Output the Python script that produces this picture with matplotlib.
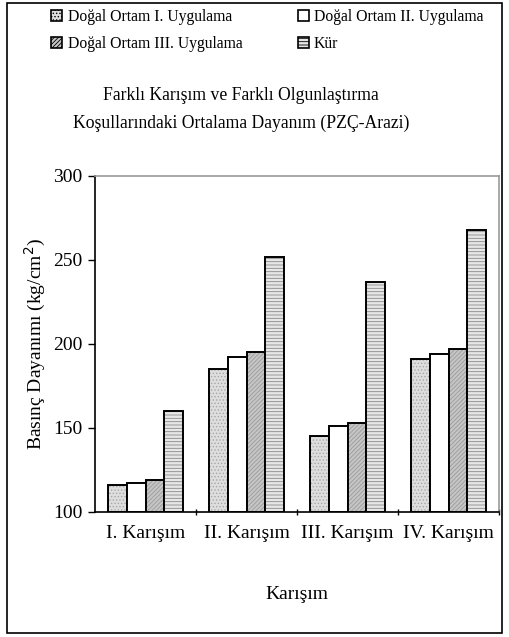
import matplotlib.pyplot as plt
import matplotlib.patches as mpatches
import numpy as np

plt.rcParams['font.family'] = ['Liberation Serif', 'DejaVu Serif']
plt.rcParams['hatch.linewidth'] = 0.6

# dados
karisim = ["I. Karışım", "II. Karışım", "III. Karışım", "IV. Karışım"]
seriler = ["Doğal Ortam I. Uygulama", "Doğal Ortam II. Uygulama",
           "Doğal Ortam III. Uygulama", "Kür"]
uyg1 = [116, 185, 145, 191]
uyg2 = [117, 192, 151, 194]
uyg3 = [119, 195, 153, 197]
kur = [160, 252, 237, 268]

degerler = [uyg1, uyg2, uyg3, kur]
renkler = ['#dedede', 'white', '#c6c6c6', '#e6e6e6']
taramalar = ['.....', None, '////////', '-----']
tarama_renk = ['#a8a8a8', 'white', '#9a9a9a', '#8a8a8a']

fig = plt.figure(figsize=(5.09, 6.37), dpi=100)
ax = fig.add_axes([95/509, 1 - 512/637, 404/509, 336/637])

x = np.arange(len(karisim))
w = 0.185
for i, vals in enumerate(degerler):
    pos = x + (i - 1.5) * w
    ax.bar(pos, np.array(vals) - 100, w, bottom=100, color=renkler[i],
           hatch=taramalar[i], edgecolor=tarama_renk[i], linewidth=0)
    ax.bar(pos, np.array(vals) - 100, w, bottom=100, fill=False,
           edgecolor='black', linewidth=1.4)

ax.set_xlim(-0.5, 3.5)
ax.set_ylim(100, 300)
ax.set_yticks([100, 150, 200, 250, 300])
ax.set_xticks(x)
ax.set_xticklabels(karisim, fontsize=14)
ax.set_xticks([0.5, 1.5, 2.5, 3.5], minor=True)
ax.tick_params(axis='x', which='major', length=0, pad=9)
ax.tick_params(axis='x', which='minor', length=5, direction='inout', width=1)
ax.tick_params(axis='y', length=5, direction='out', width=1, labelsize=14,
               pad=4)

for s in ['top', 'right']:
    ax.spines[s].set_color('#999999')
    ax.spines[s].set_linewidth(1.2)
for s in ['left', 'bottom']:
    ax.spines[s].set_linewidth(1.2)

ax.set_ylabel("Basınç Dayanımı (kg/cm$^2$)", fontsize=14, labelpad=4)
ax.set_xlabel("Karışım", fontsize=14, labelpad=32)

fig.text(241/509, 1 - 95/637, "Farklı Karışım ve Farklı Olgunlaştırma",
         ha='center', va='center', fontsize=12.7)
fig.text(241/509, 1 - 123/637, "Koşullarındaki Ortalama Dayanım (PZÇ-Arazi)",
         ha='center', va='center', fontsize=12.7)

# lejant (ordem por linhas)
handles = []
for i in range(4):
    handles.append(mpatches.Patch(facecolor=renkler[i], hatch=taramalar[i],
                                  edgecolor='black', linewidth=1.2))
ordem = [0, 2, 1, 3]
fig.legend([handles[i] for i in ordem], [seriler[i] for i in ordem], ncol=2,
           loc='upper left', bbox_to_anchor=(42/509, 1 - 0/637),
           frameon=False, fontsize=11.3, handlelength=0.7, handleheight=0.7,
           handletextpad=0.35, columnspacing=3.5, labelspacing=0.7,
           borderpad=0.1)

# moldura externa
fig.patches.append(mpatches.Rectangle((7/509, 4/637), 495/509, 630/637,
                                      transform=fig.transFigure, fill=False,
                                      edgecolor='black', linewidth=1.2))

fig.savefig("out.png", dpi=100)
